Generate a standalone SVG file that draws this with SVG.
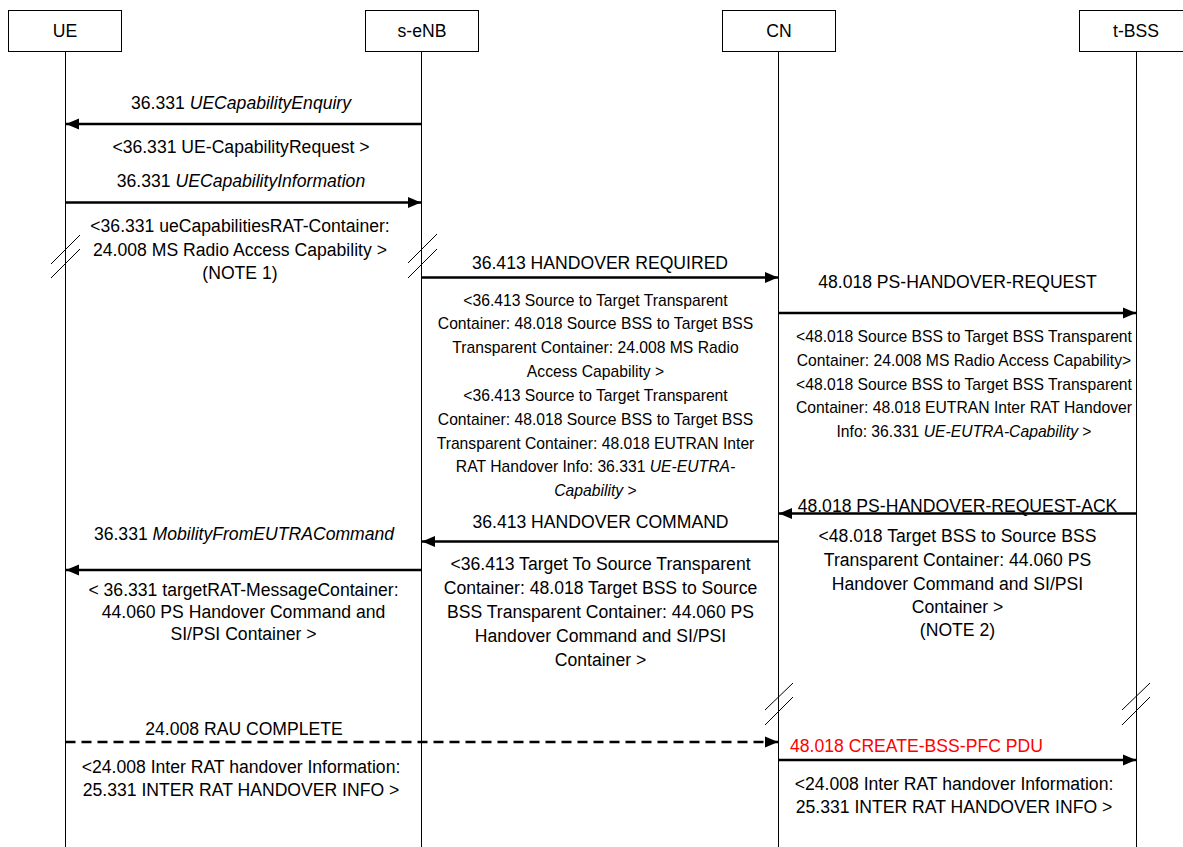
<svg xmlns="http://www.w3.org/2000/svg" width="1183" height="847" viewBox="0 0 1183 847">
<style>
.box{fill:#fff;stroke:#000;stroke-width:1}
.life{stroke:#000;stroke-width:1;fill:none}
.msg{stroke:#000;stroke-width:2.5;fill:none}
.dash{stroke:#000;stroke-width:2.5;fill:none;stroke-dasharray:10,6}
.brk{stroke:#000;stroke-width:1;fill:none}
text{font-family:"Liberation Sans",Arial,sans-serif;fill:#000}
.t{font-size:17.6px;text-anchor:middle}
.s{font-size:15.7px;text-anchor:middle}
.h{font-size:17.6px;text-anchor:middle}
.red{fill:#ff0000}
.i{font-style:italic}
</style>
<defs>
<marker id="ah" markerUnits="userSpaceOnUse" markerWidth="14" markerHeight="12" refX="13" refY="6" orient="auto">
<path d="M0,0.5 L13,6 L0,11.5 Z" fill="#000"/>
</marker>
</defs>
<rect width="1183" height="847" fill="#fff"/>
<g id="node-UE">
<line class="life" x1="65.5" y1="52" x2="65.5" y2="847"/>
<rect class="box" x="8.5" y="10.5" width="113" height="41"/>
<text class="h" x="65" y="37">UE</text>
</g>
<g id="node-sENB">
<line class="life" x1="421.5" y1="52" x2="421.5" y2="847"/>
<rect class="box" x="365.5" y="10.5" width="113" height="41"/>
<text class="h" x="422" y="37">s-eNB</text>
</g>
<g id="node-CN">
<line class="life" x1="778.5" y1="52" x2="778.5" y2="847"/>
<rect class="box" x="722.5" y="10.5" width="113" height="41"/>
<text class="h" x="779" y="37">CN</text>
</g>
<g id="node-tBSS">
<line class="life" x1="1136.5" y1="52" x2="1136.5" y2="847"/>
<rect class="box" x="1079.5" y="10.5" width="113" height="41"/>
<text class="h" x="1136" y="37">t-BSS</text>
</g>
<g id="breaks">
<line class="brk" x1="51" y1="264" x2="80" y2="235"/>
<line class="brk" x1="51" y1="278" x2="80" y2="249"/>
<line class="brk" x1="408" y1="263" x2="437" y2="234"/>
<line class="brk" x1="408" y1="278" x2="437" y2="249"/>
<line class="brk" x1="765" y1="710" x2="793" y2="683"/>
<line class="brk" x1="765" y1="725" x2="793" y2="697"/>
<line class="brk" x1="1122" y1="710" x2="1150" y2="683"/>
<line class="brk" x1="1122" y1="725" x2="1150" y2="697"/>
</g>
<g id="connectors">
<line class="msg" x1="421.5" y1="124" x2="66" y2="124" marker-end="url(#ah)"/>
<line class="msg" x1="65.5" y1="202.5" x2="421" y2="202.5" marker-end="url(#ah)"/>
<line class="msg" x1="421.5" y1="277.5" x2="778" y2="277.5" marker-end="url(#ah)"/>
<line class="msg" x1="778.5" y1="313" x2="1136" y2="313" marker-end="url(#ah)"/>
<line class="msg" x1="1136.5" y1="513.5" x2="779" y2="513.5" marker-end="url(#ah)"/>
<line class="msg" x1="778.5" y1="541.5" x2="422" y2="541.5" marker-end="url(#ah)"/>
<line class="msg" x1="421.5" y1="570" x2="66" y2="570" marker-end="url(#ah)"/>
<line class="dash" x1="65.5" y1="742" x2="778" y2="742" marker-end="url(#ah)"/>
<line class="msg" x1="778.5" y1="760" x2="1136" y2="760" marker-end="url(#ah)"/>
</g>
<g id="labels">
<text class="t" x="241" y="109">36.331 <tspan class="i">UECapabilityEnquiry</tspan></text>
<text class="t" x="241" y="153">&lt;36.331 UE-CapabilityRequest &gt;</text>
<text class="t" x="241" y="187">36.331 <tspan class="i">UECapabilityInformation</tspan></text>
<text class="t" x="240" y="231.5">&lt;36.331 ueCapabilitiesRAT-Container:</text>
<text class="t" x="240" y="255.5">24.008 MS Radio Access Capability &gt;</text>
<text class="t" x="240" y="279">(NOTE 1)</text>

<text class="t" x="600" y="269">36.413 HANDOVER REQUIRED</text>
<text class="s" x="595.5" y="305.5">&lt;36.413 Source to Target Transparent</text>
<text class="s" x="595.5" y="329.3">Container: 48.018 Source BSS to Target BSS</text>
<text class="s" x="595.5" y="353.2">Transparent Container: 24.008 MS Radio</text>
<text class="s" x="595.5" y="377">Access Capability &gt;</text>
<text class="s" x="595.5" y="400.9">&lt;36.413 Source to Target Transparent</text>
<text class="s" x="595.5" y="424.7">Container: 48.018 Source BSS to Target BSS</text>
<text class="s" x="595.5" y="448.6">Transparent Container: 48.018 EUTRAN Inter</text>
<text class="s" x="595.5" y="472.4">RAT Handover Info: 36.331 <tspan class="i">UE-EUTRA-</tspan></text>
<text class="s" x="595.5" y="496.3"><tspan class="i">Capability</tspan> &gt;</text>

<text class="t" x="957.5" y="287.5">48.018 PS-HANDOVER-REQUEST</text>
<text class="s" x="964" y="342.3">&lt;48.018 Source BSS to Target BSS Transparent</text>
<text class="s" x="964" y="365.9">Container: 24.008 MS Radio Access Capability&gt;</text>
<text class="s" x="964" y="389.5">&lt;48.018 Source BSS to Target BSS Transparent</text>
<text class="s" x="964" y="413.1">Container: 48.018 EUTRAN Inter RAT Handover</text>
<text class="s" x="964" y="436.7">Info: 36.331 <tspan class="i">UE-EUTRA-Capability</tspan> &gt;</text>

<text class="t" x="957.5" y="512">48.018 PS-HANDOVER-REQUEST-ACK</text>
<text class="t" x="957.5" y="542">&lt;48.018 Target BSS to Source BSS</text>
<text class="t" x="957.5" y="565.5">Transparent Container: 44.060 PS</text>
<text class="t" x="957.5" y="589.5">Handover Command and SI/PSI</text>
<text class="t" x="957.5" y="612.5">Container &gt;</text>
<text class="t" x="957.5" y="636">(NOTE 2)</text>

<text class="t" x="600.5" y="527.5">36.413 HANDOVER COMMAND</text>
<text class="t" x="600.5" y="569.5">&lt;36.413 Target To Source Transparent</text>
<text class="t" x="600.5" y="593.5">Container: 48.018 Target BSS to Source</text>
<text class="t" x="600.5" y="617.5">BSS Transparent Container: 44.060 PS</text>
<text class="t" x="600.5" y="641.5">Handover Command and SI/PSI</text>
<text class="t" x="600.5" y="665.5">Container &gt;</text>

<text class="t" x="244" y="539.5">36.331 <tspan class="i">MobilityFromEUTRACommand</tspan></text>
<text class="t" x="243.5" y="595.5">&lt; 36.331 targetRAT-MessageContainer:</text>
<text class="t" x="243.5" y="618">44.060 PS Handover Command and</text>
<text class="t" x="243.5" y="640">SI/PSI Container &gt;</text>

<text class="t" x="244" y="734.5">24.008 RAU COMPLETE</text>
<text class="t" x="241" y="773">&lt;24.008 Inter RAT handover Information:</text>
<text class="t" x="241" y="796">25.331 INTER RAT HANDOVER INFO &gt;</text>

<text class="red" x="790" y="752" style="font-size:17.6px">48.018 CREATE-BSS-PFC PDU</text>
<text class="t" x="954" y="789.5">&lt;24.008 Inter RAT handover Information:</text>
<text class="t" x="954" y="812.5">25.331 INTER RAT HANDOVER INFO &gt;</text>
</g>
</svg>
